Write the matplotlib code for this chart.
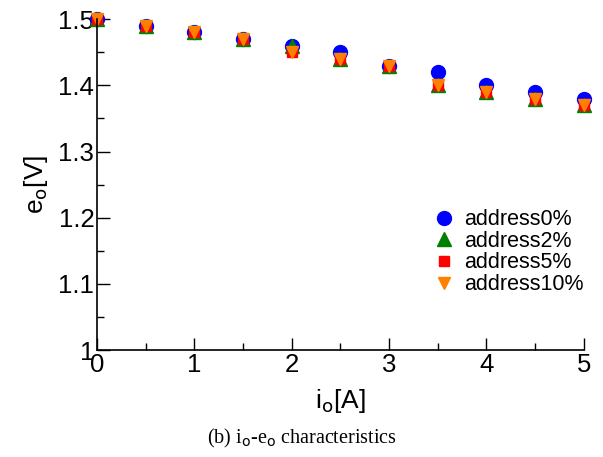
import matplotlib
matplotlib.use("Agg")
import matplotlib.pyplot as plt
from matplotlib.ticker import MultipleLocator

# output current [A]
current = [0, 0.5, 1.0, 1.5, 2.0, 2.5, 3.0, 3.5, 4.0, 4.5, 5.0]

# output voltage [V] for each address setting
addr0 = [1.50, 1.49, 1.48, 1.47, 1.46, 1.45, 1.43, 1.42, 1.40, 1.39, 1.38]
addr2 = [1.50, 1.49, 1.48, 1.47, 1.46, 1.44, 1.43, 1.40, 1.39, 1.38, 1.37]
addr5 = [1.50, 1.49, 1.48, 1.47, 1.45, 1.44, 1.43, 1.40, 1.39, 1.38, 1.37]
addr10 = [1.50, 1.49, 1.48, 1.47, 1.45, 1.44, 1.43, 1.40, 1.39, 1.38, 1.37]

plt.rcParams['font.family'] = ['Liberation Sans', 'DejaVu Sans']

fig = plt.figure(figsize=(6.03, 4.57), dpi=100)
ax = fig.add_axes([0.161, 0.234, 0.807, 0.724])

ax.plot(current, addr0, 'o', color='blue', markersize=10, label='address0%', clip_on=False)
ax.plot(current, addr2, '^', color='green', markersize=10, label='address2%', clip_on=False)
ax.plot(current, addr5, 's', color='red', markersize=6.5, label='address5%', clip_on=False)
ax.plot(current, addr10, 'v', color='#ff8000', markersize=9, label='address10%', clip_on=False)

ax.set_xlim(0, 5)
ax.set_ylim(1, 1.5)
ax.xaxis.set_major_locator(MultipleLocator(1))
ax.xaxis.set_minor_locator(MultipleLocator(0.5))
ax.yaxis.set_minor_locator(MultipleLocator(0.05))
ax.set_yticks([1, 1.1, 1.2, 1.3, 1.4, 1.5])
ax.set_yticklabels(['1', '1.1', '1.2', '1.3', '1.4', '1.5'])

ax.spines['top'].set_visible(False)
ax.spines['right'].set_visible(False)
ax.spines['left'].set_linewidth(1.2)
ax.spines['bottom'].set_linewidth(1.2)
ax.tick_params(which='major', direction='in', length=9, width=1, labelsize=18.5, pad=2)
ax.tick_params(which='minor', direction='in', length=5, width=1)

ax.set_xlabel('i$_\\mathrm{o}$[A]', fontsize=19, labelpad=7)
ax.set_ylabel('e$_\\mathrm{o}$[V]', fontsize=19, labelpad=6)

ax.legend(loc='lower right', bbox_to_anchor=(1.018, 0.14), frameon=False, fontsize=15.5,
          handletextpad=0.45, labelspacing=0.03, borderaxespad=0.0, handlelength=1.0)

fig.text(0.5, 0.03, '(b) i$_\\mathrm{o}$-e$_\\mathrm{o}$ characteristics', ha='center',
         fontsize=14.5, family='Liberation Serif')

fig.savefig('out.png', dpi=100)
